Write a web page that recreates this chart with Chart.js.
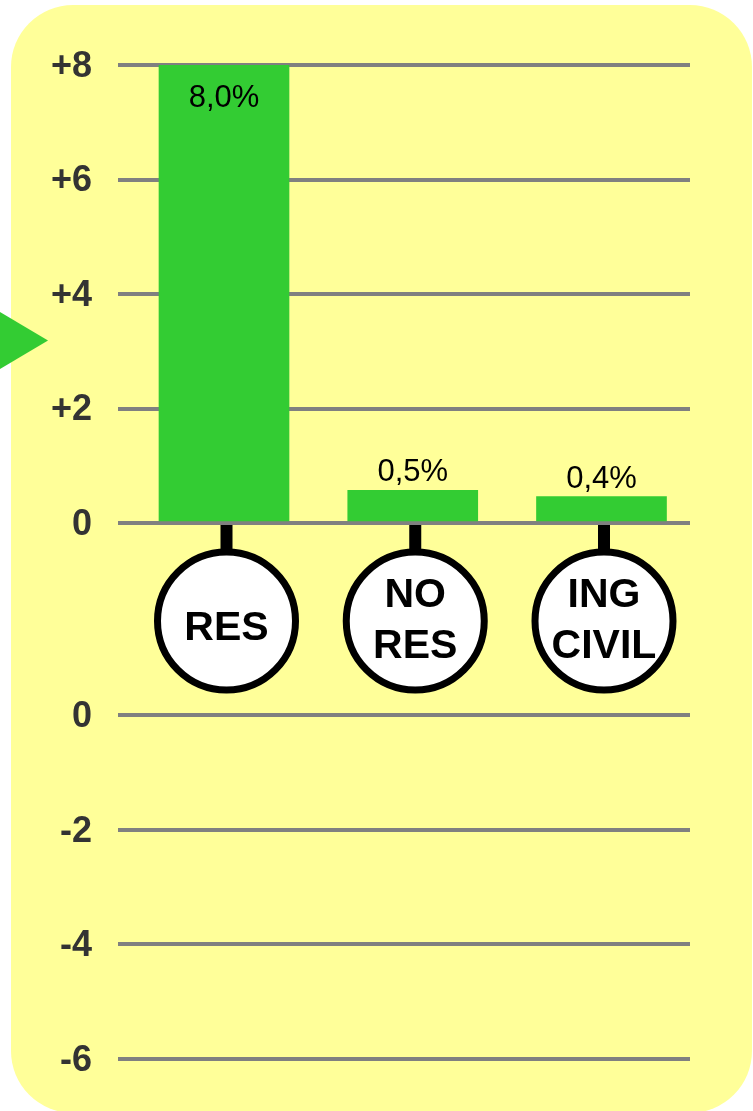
<!DOCTYPE html>
<html>
<head>
<meta charset="utf-8">
<script src="https://cdn.jsdelivr.net/npm/chart.js@4/dist/chart.umd.min.js"></script>
<style>
    body { margin: 0; background: #ffffff; }
    #wrap { position: relative; width: 753px; height: 1111px; overflow: hidden; }
    #panel { position: absolute; left: 11px; top: 5px; width: 741px; height: 1108px;
             background: #FFFF99; border-radius: 62px; }
    #arrow { position: absolute; left: 0; top: 312px; width: 48px; height: 57px;
             background: #33CC33; clip-path: polygon(0 0, 100% 50%, 0 100%); }
    #wrap canvas { position: absolute; left: 0; }
    #arriba { top: 0; }
    #abajo { top: 660px; }
</style>
</head>
<body>
<div id="wrap">
    <div id="panel"></div>
    <div id="arrow"></div>
    <canvas id="arriba" width="753" height="700"></canvas>
    <canvas id="abajo" width="753" height="451"></canvas>
</div>
<script>
// Datos
const categorias = [['RES'], ['NO', 'RES'], ['ING', 'CIVIL']];
const valores = [8.0, 0.57, 0.46];
const etiquetas = ['8,0%', '0,5%', '0,4%'];
const ticksArriba = [0, 2, 4, 6, 8];
const ticksAbajo = [-6, -4, -2, 0];

const verde = '#33CC33';
const gris = '#808080';
const fuente = "'Liberation Sans', Arial, sans-serif";

function puntos() {
    return valores.map(function (v, i) { return { x: i, y: v }; });
}

function ejeY(min, max, lista) {
    return {
        min: min,
        max: max,
        afterFit: function (scale) { scale.width = 118; },
        afterBuildTicks: function (scale) {
            scale.ticks = lista.map(function (v) { return { value: v }; });
        },
        border: { display: false },
        grid: { color: gris, lineWidth: 4, drawTicks: false },
        ticks: {
            padding: 26,
            labelOffset: 2,
            color: '#333333',
            font: { family: fuente, size: 36, weight: 'bold', lineHeight: 1 },
            callback: function (v) { return v > 0 ? '+' + v : String(v); }
        }
    };
}

const ejeX = {
    type: 'linear',
    display: false,
    offset: false,
    min: -0.5616,
    max: 2.4689,
    grid: { display: false }
};

// etiquetas de porcentaje
const etiquetasPlugin = {
    id: 'etiquetas',
    afterDatasetsDraw: function (chart) {
        const ctx = chart.ctx;
        const barras = chart.getDatasetMeta(0).data;
        ctx.save();
        ctx.font = '31px ' + fuente;
        ctx.fillStyle = '#000000';
        ctx.textAlign = 'center';
        ctx.textBaseline = 'alphabetic';
        for (var i = 0; i < barras.length; i++) {
            const b = barras[i];
            const alto = b.base - b.y;
            if (alto > 60) {
                ctx.fillText(etiquetas[i], b.x, b.y + 42);
            } else {
                ctx.fillText(etiquetas[i], b.x, b.y - 9);
            }
        }
        ctx.restore();
    }
};

// circulos con nombres de categoria
const circulosPlugin = {
    id: 'circulos',
    afterDraw: function (chart) {
        const ctx = chart.ctx;
        const cero = chart.scales.y.getPixelForValue(0);
        ctx.save();
        for (var i = 0; i < categorias.length; i++) {
            const cx = chart.scales.x.getPixelForValue(i) + 2.5;
            const cy = cero + 98;
            ctx.fillStyle = '#000000';
            ctx.fillRect(cx - 6, cero + 2, 12, 26);
            ctx.beginPath();
            ctx.arc(cx, cy, 69, 0, Math.PI * 2);
            ctx.fillStyle = '#ffffff';
            ctx.fill();
            ctx.lineWidth = 7;
            ctx.strokeStyle = '#000000';
            ctx.stroke();

            const lineas = categorias[i];
            const n = lineas.length;
            const centro = cy + (n === 1 ? 4 : -4);
            ctx.font = 'bold 41px ' + fuente;
            ctx.fillStyle = '#000000';
            ctx.textAlign = 'center';
            ctx.textBaseline = 'alphabetic';
            for (var k = 0; k < n; k++) {
                ctx.fillText(lineas[k], cx, centro + (k - (n - 1) / 2) * 51 + 15);
            }
        }
        ctx.restore();
    }
};

new Chart(document.getElementById('arriba'), {
    type: 'bar',
    data: {
        datasets: [{
            data: puntos(),
            backgroundColor: verde,
            borderWidth: 0,
            barThickness: 130
        }]
    },
    options: {
        responsive: false,
        animation: false,
        layout: { padding: { top: 65, right: 63, bottom: 177, left: 0 } },
        plugins: { legend: { display: false }, tooltip: { enabled: false } },
        scales: {
            x: ejeX,
            y: ejeY(0, 8, ticksArriba)
        }
    },
    plugins: [etiquetasPlugin, circulosPlugin]
});

// parte negativa (vacia)
new Chart(document.getElementById('abajo'), {
    type: 'bar',
    data: {
        datasets: [{
            data: puntos(),
            backgroundColor: verde,
            borderWidth: 0,
            barThickness: 130
        }]
    },
    options: {
        responsive: false,
        animation: false,
        layout: { padding: { top: 55, right: 63, bottom: 52, left: 0 } },
        plugins: { legend: { display: false }, tooltip: { enabled: false } },
        scales: {
            x: ejeX,
            y: ejeY(-6, 0, ticksAbajo)
        }
    }
});
</script>
</body>
</html>
